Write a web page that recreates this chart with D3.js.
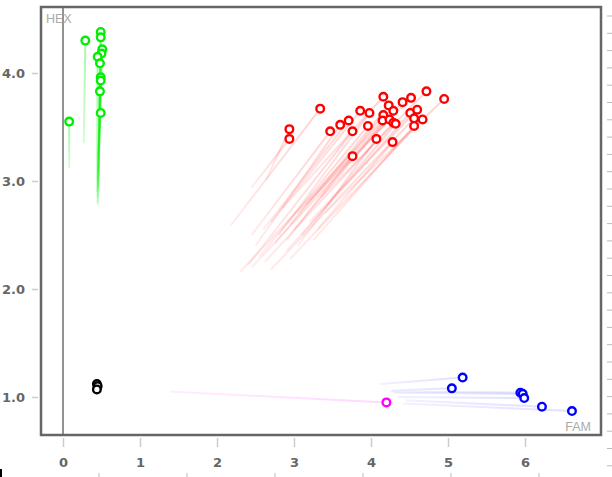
<!DOCTYPE html>
<html>
<head>
<meta charset="utf-8">
<script src="https://cdn.jsdelivr.net/npm/d3@7"></script>
<style>
  body { margin: 0; background: #fff; }
  svg { display: block; }
  .tick text { font-family: "DejaVu Sans", Verdana, sans-serif; font-size: 13px; font-weight: bold; fill: #666; }
  .tick line { stroke: #ccc; stroke-width: 1.5; }
</style>
</head>
<body>
<div id="chart"></div>
<script>
// current positions (FAM, HEX) and previous positions, per group
var green_x  = [0.08, 0.29, 0.49, 0.49, 0.51, 0.50, 0.45, 0.48, 0.49, 0.49, 0.48, 0.49];
var green_y  = [3.55, 4.30, 4.38, 4.33, 4.22, 4.18, 4.15, 4.09, 3.96, 3.93, 3.83, 3.63];
var green_x0 = [0.08, 0.27, 0.45, 0.46, 0.45, 0.46, 0.44, 0.45, 0.46, 0.45, 0.46, 0.45];
var green_y0 = [3.12, 3.35, 2.85, 2.95, 2.80, 3.05, 2.90, 2.78, 3.10, 3.00, 2.92, 3.20];

var red_x  = [2.94, 2.94, 3.34, 3.47, 3.60, 3.71, 3.76, 3.76, 3.86, 3.98, 3.96, 4.07, 4.16, 4.23, 4.16,
              4.29, 4.15, 4.24, 4.29, 4.32, 4.28, 4.41, 4.52, 4.51, 4.60, 4.56, 4.67, 4.56, 4.72, 4.95];
var red_y  = [3.48, 3.39, 3.67, 3.46, 3.52, 3.56, 3.46, 3.23, 3.65, 3.63, 3.51, 3.39, 3.78, 3.70, 3.61,
              3.65, 3.56, 3.57, 3.54, 3.53, 3.36, 3.73, 3.77, 3.63, 3.66, 3.58, 3.57, 3.51, 3.83, 3.76];
var red_x0 = [2.64, 2.45, 2.18, 2.45, 2.50, 2.60, 2.40, 2.90, 2.70, 2.80, 2.55, 3.05, 2.85, 2.95, 2.75,
              3.00, 2.30, 2.45, 2.62, 3.10, 3.30, 3.05, 3.15, 2.90, 3.20, 2.70, 2.95, 3.25, 3.35, 3.40];
var red_y0 = [3.01, 2.94, 2.59, 2.50, 2.40, 2.55, 2.22, 2.45, 2.62, 2.50, 2.30, 2.40, 2.75, 2.60, 2.42,
              2.55, 2.16, 2.20, 2.25, 2.50, 2.55, 2.70, 2.78, 2.35, 2.62, 2.18, 2.28, 2.45, 2.85, 2.70];

var blue_x  = [5.19, 5.05, 5.94, 5.97, 5.99, 6.22, 6.61];
var blue_y  = [1.18, 1.08, 1.04, 1.03, 0.99, 0.91, 0.87];
var blue_x0 = [4.12, 4.27, 4.25, 4.30, 4.35, 4.45, 4.42];
var blue_y0 = [1.12, 1.06, 1.05, 1.04, 1.00, 0.97, 0.94];

var magenta_x = [4.20], magenta_y = [0.95], magenta_x0 = [1.39], magenta_y0 = [1.05];

var black_x = [0.44, 0.45, 0.44], black_y = [1.12, 1.10, 1.07];

var x_ticks = [0, 1, 2, 3, 4, 5, 6];
var y_ticks = [1, 2, 3, 4];

var width = 612, height = 477;
var frame = {left: 41, top: 7, right: 601, bottom: 435};

var svg = d3.select("#chart").append("svg")
    .attr("width", width)
    .attr("height", height);

var x = d3.scaleLinear().domain([0, 6]).range([63, 525]);
var y = d3.scaleLinear().domain([1, 4]).range([397, 73]);

// stray ticks of the neighbouring panels
var bottom_ticks = d3.range(6);
svg.selectAll(".btick").data(bottom_ticks).enter().append("line")
    .attr("x1", function(d) { return 99 + d * 88; })
    .attr("x2", function(d) { return 99 + d * 88; })
    .attr("y1", 473).attr("y2", 477)
    .attr("stroke", "#bbb").attr("stroke-width", 1);
svg.selectAll(".rtick").data(d3.range(27)).enter().append("line")
    .attr("x1", 607).attr("x2", 612)
    .attr("y1", function(d) { return 16 + d * 17.3; })
    .attr("y2", function(d) { return 16 + d * 17.3; })
    .attr("stroke", "#bbb").attr("stroke-width", 1);
svg.append("rect").attr("x", 0).attr("y", 469).attr("width", 2).attr("height", 8).attr("fill", "#000");

// axes
svg.append("g")
    .attr("transform", "translate(38,0)")
    .call(d3.axisLeft(y).tickValues(y_ticks).tickFormat(d3.format(".1f")).tickSize(6).tickPadding(7))
    .call(function(g) { g.select(".domain").remove(); });

svg.append("g")
    .attr("transform", "translate(0,438)")
    .call(d3.axisBottom(x).tickValues(x_ticks).tickFormat(d3.format("d")).tickSize(9).tickPadding(11))
    .call(function(g) { g.select(".domain").remove(); });

// frame + zero line
svg.append("line")
    .attr("x1", x(0)).attr("x2", x(0))
    .attr("y1", frame.top).attr("y2", frame.bottom)
    .attr("stroke", "#777").attr("stroke-width", 1.6);
svg.append("rect")
    .attr("x", frame.left).attr("y", frame.top)
    .attr("width", frame.right - frame.left).attr("height", frame.bottom - frame.top)
    .attr("fill", "none").attr("stroke", "#666").attr("stroke-width", 2.5);

svg.append("text").attr("x", 46).attr("y", 23)
    .attr("font-family", "Liberation Sans, Arial, sans-serif").attr("font-size", 12.5)
    .attr("fill", "#aaa").text("HEX");
svg.append("text").attr("x", 591).attr("y", 431).attr("text-anchor", "end")
    .attr("font-family", "Liberation Sans, Arial, sans-serif").attr("font-size", 12.5)
    .attr("fill", "#aaa").text("FAM");

var groups = [
  {name: "green", color: "#00ee00", xs: green_x, ys: green_y, x0: green_x0, y0: green_y0, op: 0.35},
  {name: "red", color: "#ff0000", xs: red_x, ys: red_y, x0: red_x0, y0: red_y0, op: 0.17},
  {name: "blue", color: "#0000ff", xs: blue_x, ys: blue_y, x0: blue_x0, y0: blue_y0, op: 0.12},
  {name: "magenta", color: "#ff00ff", xs: magenta_x, ys: magenta_y, x0: magenta_x0, y0: magenta_y0, op: 0.15}
];

var defs = svg.append("defs");
var trails = svg.append("g");
var dots = svg.append("g");

groups.forEach(function(grp) {
  var pts = grp.xs.map(function(v, i) {
    return {x: v, y: grp.ys[i], x0: grp.x0[i], y0: grp.y0[i], id: grp.name + i};
  });
  pts.forEach(function(p) {
    var gr = defs.append("linearGradient")
        .attr("id", "g_" + p.id)
        .attr("gradientUnits", "userSpaceOnUse")
        .attr("x1", x(p.x0)).attr("y1", y(p.y0))
        .attr("x2", x(p.x)).attr("y2", y(p.y));
    gr.append("stop").attr("offset", "0%").attr("stop-color", grp.color).attr("stop-opacity", grp.op * 0.45);
    gr.append("stop").attr("offset", "100%").attr("stop-color", grp.color).attr("stop-opacity", grp.op);
  });
  trails.selectAll(".t_" + grp.name).data(pts).enter().append("line")
      .attr("class", "t_" + grp.name)
      .attr("x1", function(d) { return x(d.x0); })
      .attr("y1", function(d) { return y(d.y0); })
      .attr("x2", function(d) { return x(d.x); })
      .attr("y2", function(d) { return y(d.y); })
      .attr("stroke", function(d) { return "url(#g_" + d.id + ")"; })
      .attr("stroke-width", 2);
  dots.selectAll(".c_" + grp.name).data(pts).enter().append("circle")
      .attr("class", "c_" + grp.name)
      .attr("cx", function(d) { return x(d.x); })
      .attr("cy", function(d) { return y(d.y); })
      .attr("r", 3.8)
      .attr("fill", "#fff")
      .attr("stroke", grp.color)
      .attr("stroke-width", 2.4);
});

dots.selectAll(".c_black").data(black_x).enter().append("circle")
    .attr("cx", function(d) { return x(d); })
    .attr("cy", function(d, i) { return y(black_y[i]); })
    .attr("r", 3.8)
    .attr("fill", "#fff")
    .attr("stroke", "#000")
    .attr("stroke-width", 2.4);
</script>
</body>
</html>
